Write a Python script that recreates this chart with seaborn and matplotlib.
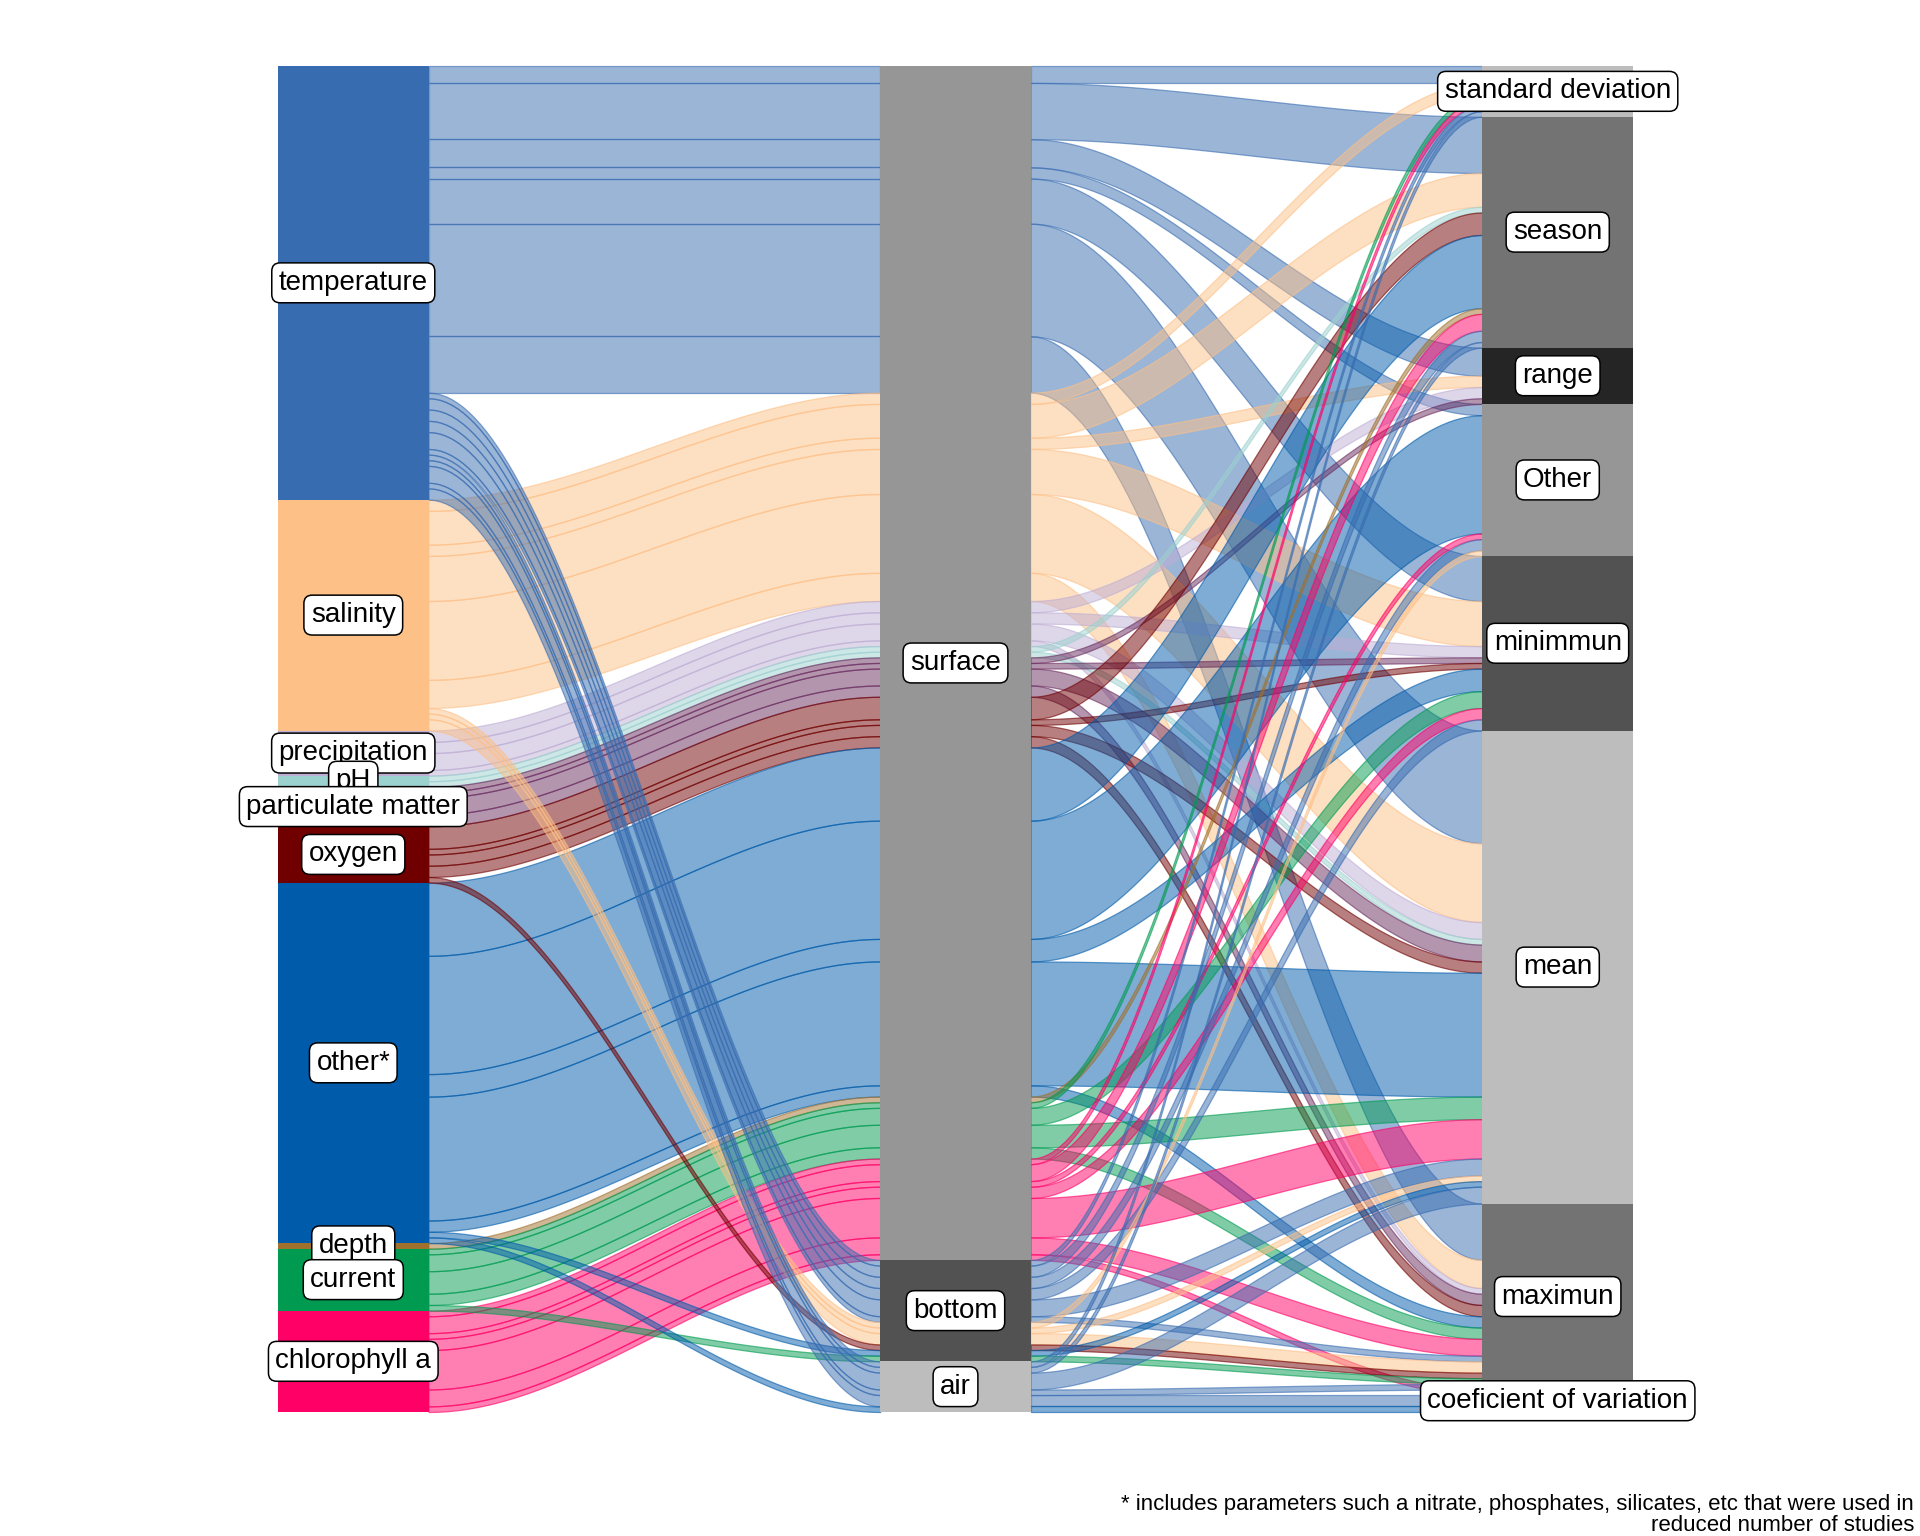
import numpy as np
import pandas as pd
import matplotlib
matplotlib.use("Agg")
import matplotlib.pyplot as plt
from matplotlib.colors import to_rgba
import seaborn as sns

# strata, top to bottom on each axis
param_levels = ["temperature", "salinity", "precipitation", "pH", "particulate matter",
                "oxygen", "other*", "depth", "current", "chlorophyll a"]
loc_levels = ["surface", "bottom", "air"]
stat_levels = ["standard deviation", "season", "range", "Other", "minimmun",
               "mean", "maximun", "coeficient of variation"]

# one entry per alluvium: parameter -> location -> statistic, number of records
flow_param = (["temperature"] * 7 + ["salinity"] * 6 + ["precipitation"] * 4 + ["pH"] * 2
              + ["particulate matter"] * 4 + ["oxygen"] * 4 + ["other*"] * 5 + ["depth"]
              + ["current"] * 4 + ["chlorophyll a"] * 7
              + ["temperature"] * 6 + ["salinity"] * 3 + ["oxygen", "other*", "current"]
              + ["temperature"] * 5 + ["other*"])
flow_loc = (["surface"] * 44 + ["bottom"] * 12 + ["air"] * 6)
flow_stat = (["standard deviation", "season", "range", "Other", "minimmun", "mean", "maximun"]
             + ["standard deviation", "season", "range", "minimmun", "mean", "maximun"]
             + ["range", "minimmun", "mean", "maximun"]
             + ["season", "mean"]
             + ["range", "minimmun", "mean", "maximun"]
             + ["season", "minimmun", "mean", "maximun"]
             + ["season", "Other", "minimmun", "mean", "maximun"]
             + ["season"]
             + ["standard deviation", "minimmun", "mean", "maximun"]
             + ["standard deviation", "season", "Other", "minimmun", "mean", "maximun",
                "coeficient of variation"]
             + ["standard deviation", "season", "Other", "minimmun", "mean", "maximun"]
             + ["Other", "mean", "maximun"]
             + ["maximun", "mean", "maximun"]
             + ["standard deviation", "season", "mean", "maximun", "coeficient of variation"]
             + ["coeficient of variation"])
flow_n = ([3, 10, 5, 2, 8, 20, 10]
          + [2, 6, 2, 8, 14, 5]
          + [2, 2, 3, 1]
          + [1, 1]
          + [1, 1, 3, 2]
          + [4, 1, 2, 2]
          + [13, 21, 4, 22, 2]
          + [1]
          + [1, 3, 4, 2]
          + [1, 3, 1, 2, 7, 3, 1]
          + [1, 2, 2, 2, 3, 1]
          + [1, 1, 2]
          + [1, 1, 1]
          + [1, 1, 3, 1, 2]
          + [1])

param_colors = ["#386CB0", "#FDC086", "#BEAED4", "#9BD1CF", "#6A2C5F",
                "#700000", "#005BAA", "#A0702D", "#009B50", "#FF0066"]
loc_colors = ["#969696", "#525252", "#BDBDBD"]
stat_colors = ["#BDBDBD", "#737373", "#252525", "#969696", "#525252",
               "#BDBDBD", "#737373", "#F0F0F0"]

sns.set_theme(style="white")
plt.rcParams["font.family"] = ["Liberation Sans", "DejaVu Sans"]

df = pd.DataFrame({"param": flow_param, "loc": flow_loc, "stat": flow_stat, "n": flow_n})
for col, lv in [("param", param_levels), ("loc", loc_levels), ("stat", stat_levels)]:
    df[col + "_r"] = df[col].map({v: i for i, v in enumerate(lv)})

# zigzag lode ordering like ggalluvial
axis_keys = {1: ["param", "loc", "stat"], 2: ["loc", "param", "stat"], 3: ["stat", "loc", "param"]}
for k, keys in axis_keys.items():
    srt = df.sort_values([c + "_r" for c in keys], kind="stable")
    cum = srt["n"].cumsum()
    df.loc[srt.index, f"bot{k}"] = cum
    df.loc[srt.index, f"top{k}"] = cum - srt["n"]

total = df["n"].sum()
w = 0.25

fig = plt.figure(figsize=(19.2, 15.36), dpi=100)
ax = fig.add_axes([0, 0, 1, 1])
ax.axis("off")

# pixel mapping of the panel
pxu = (1633 - 278) / (2 * 1 + w)
ax.set_xlim(1 - w / 2 - 278 / pxu, 3 + w / 2 + (1920 - 1633) / pxu)
pyu = (1412 - 66) / total
ax.set_ylim(total + (1536 - 1412) / pyu, -66 / pyu)

pcol = dict(zip(param_levels, param_colors))
t = np.linspace(0, 1, 80)
s = 3 * t ** 2 - 2 * t ** 3
for _, r in df.iterrows():
    c = pcol[r["param"]]
    for a, b in [(1, 2), (2, 3)]:
        x = a + w / 2 + (b - a - w) * t
        up = r[f"top{a}"] + (r[f"top{b}"] - r[f"top{a}"]) * s
        lo = r[f"bot{a}"] + (r[f"bot{b}"] - r[f"bot{a}"]) * s
        ax.fill_between(x, up, lo, facecolor=to_rgba(c, 0.5), edgecolor=to_rgba(c, 0.6),
                        linewidth=0.9, zorder=1)

label_box = dict(boxstyle="round,pad=0.25,rounding_size=0.3", fc="white", ec="black", lw=1.1)
for k, col, lv, cols in [(1, "param", param_levels, param_colors),
                         (2, "loc", loc_levels, loc_colors),
                         (3, "stat", stat_levels, stat_colors)]:
    g = df.groupby(col).agg(top=(f"top{k}", "min"), bot=(f"bot{k}", "max"))
    for name, c in zip(lv, cols):
        top, bot = g.loc[name, "top"], g.loc[name, "bot"]
        ax.fill_between([k - w / 2, k + w / 2], top, bot, color=c, lw=0, zorder=2)
    for name in lv:
        top, bot = g.loc[name, "top"], g.loc[name, "bot"]
        ax.text(k, (top + bot) / 2, name, ha="center", va="center", fontsize=20,
                color="black", bbox=label_box, zorder=3)

fig.text(1914 / 1920, 1 - 1494 / 1536,
         "* includes parameters such a nitrate, phosphates, silicates, etc that were used in\nreduced number of studies",
         ha="right", va="top", multialignment="right", fontsize=16, linespacing=1.0,
         color="black")

fig.savefig("out.png", dpi=100)
